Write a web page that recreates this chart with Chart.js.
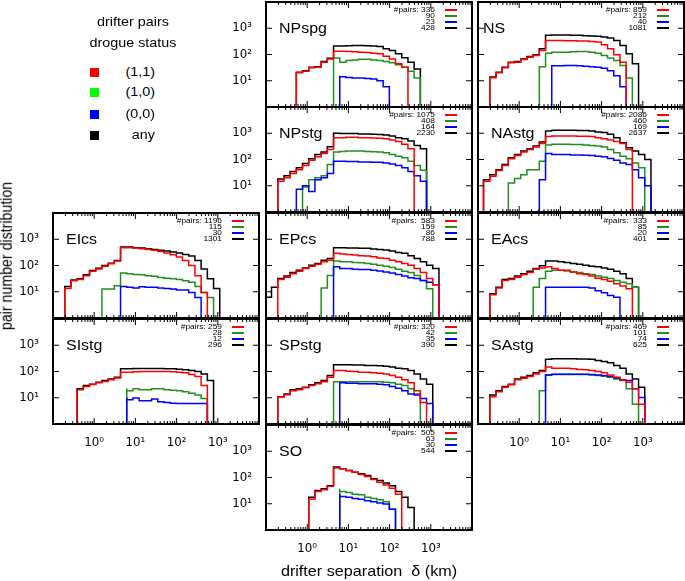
<!DOCTYPE html>
<html><head><meta charset="utf-8">
<script src="https://cdn.jsdelivr.net/npm/chart.js@4/dist/chart.umd.min.js"></script>
<style>
body{margin:0;background:#fff;width:685px;height:581px;overflow:hidden;position:relative;font-family:"Liberation Sans",Arial,sans-serif;}
canvas{position:absolute;}
.t{position:absolute;white-space:pre;color:#000;line-height:1;}
.sq{position:absolute;width:9px;height:9px;}
.ln{position:absolute;height:1.6px;width:12px;}
</style></head><body>
<script>
// ---------- DATA ----------
// bin edges of drifter separation (km), logarithmic bins (factor ~sqrt 2)
const edges_km = [0.0964,0.136,0.193,0.273,0.385,0.545,0.771,1.09,1.54,2.18,3.08,4.36,6.17,8.72,12.3,17.4,24.7,34.9,49.3,69.7,98.6,139,197,279,394,558,789,1115,1578,2231];
const _ = null;
// pair number distribution per bin: (1,1), (1,0), (0,0), any
const NPspg_11 = [_,_,_,_,_, 7.5,20,23,31,33,51,68, 134,134,130,127,123,119,112,106,86,68,44,33];
const NPspg_10 = [_,_,_,_,_,_,_,_,_,_,_, 10.6, 74,51,59,62,66,66,62,59,54,48,41,33,23,12.6];
const NPspg_00 = [_,_,_,_,_,_,_,_,_,_,_,_, 15.5,14.3,13.4,12.6,12.6,12.3,11.6,10,5.9];
const NPspg_any = [_,_,_,_,_, 7.9,21,24,33,34,54,72, 210,210,215,220,220,215,210,203,165,143,106,75,51,28];

const NS_11 = [_,_, 9.4,13,20,31,48,51,64,79,91,142, 345,345,345,335,335,325,325,316,300,235,165,97,51];
const NS_10 = [_,_,_,_,_,_,_,_,_,_, 15.5,34, 112,123,123,123,127,130,130,123,112,92,74,59,38,12.6];
const NS_00 = [_,_,_,_,_,_,_,_,_,_,_,_, 34,37,37,38,38,37,36,34,33,30,24,15.5,5.9];
const NS_any = [_,_, 10,14,21,33,51,54,68,84,97,165, 536,550,550,550,536,536,520,505,492,465,425,345,222,106,44];

const NPstg_11 = [_,_, 12,14.7,20,29,41,59,94,127,170,240, 680,680,700,700,680,680,660,640,620,555,480,380,257];
const NPstg_10 = [_,_,_,_,_,_, 3.9,8.9,17,20,24,64, 192,203,210,210,210,203,196,192,180,155,134,116,86,59,39];
const NPstg_00 = [_,_,_,_,_, 7.4,7.4,10,6.1,17,20,29, 86,86,83,83,81,81,79,79,74,68,59,48,35,24,15];
const NPstg_any = [_,_, 16,18,24,35,48,70,106,155,192,307, 1000,970,970,970,940,940,915,890,865,790,680,620,505,345,257];

const NAstg_11 = [_, 8.9,14.7,23,38,59,106,143,192,240,300,410, 745,790,790,790,790,770,770,745,680,620,555,480,410,240];
const NAstg_10 = [_,_,_,_,_, 7.4,12.6,19,26,41,41,86, 355,380,380,380,370,370,355,345,325,300,240,180,134,106,74,48];
const NAstg_00 = [_,_,_,_,_,_,_,_,_,_, 7,17, 170,155,155,155,150,150,146,143,134,127,109,94,74,64,41,20,10];
const NAstg_any = [_, 10,17,26,41,64,116,155,210,257,325,464, 1230,1310,1310,1310,1310,1270,1270,1230,1110,1070,915,680,437,280,210,155,100];

const EIcs_11 = [_,_, 8,13.4,26,29,41,60,74,94,116,147, 475,475,464,437,410,380,345,300,257,210,155,100,41,9.4];
const EIcs_10 = [_,_,_,_,_,_,_,_, 7,12.6,12.6,17, 52,48,45,44,41,39,35,33,31,29,26,23,16,9.4,6.1];
const EIcs_00 = [_,_,_,_,_,_,_,_,_,_,_, 9.4, 16,14.7,13.8,15.5,14.7,14.7,13.8,13.4,12.6,11.6,11.6,9.4,6.1];
const EIcs_any = [_,_, 8.1,16,28,31,44,64,79,100,123,155, 510,510,475,464,437,410,380,355,325,300,265,230,155,74,31,13.4];

const EPcs_11 = [_,_, 15,29,36,49,60,77,94,112,140,160, 290,273,265,250,235,230,215,195,185,160,140,120,103,77,54,32,18.6];
const EPcs_10 = [_,_,_,_,_,_,_,_,_, 15,14,42, 147,140,140,130,127,120,112,103,94,84,72,60,54,42,27,13];
const EPcs_00 = [_,_,_,_,_,_,_,_,_,_,_, 7.2, 89,77,77,72,70,70,66,62,57,52,45,40,34.5,32,27,23,18.6];
const EPcs_any = [6.2,6.2,15,32,40,54,66,81,103,120,160,185, 475,475,464,464,450,450,425,410,390,355,316,290,235,185,140,103,77];

const EAcs_11 = [_,_, 5,7.7,14,27,29,36,45,54,72,81, 89,77,66,66,57,49,45,40,33,29,25,20,16.5,13];
const EAcs_10 = [_,_,_,_,_,_,_,_,_, 6.2,15,32, 60,66,66,62,57,54,49,45,40,36,32,27,23,20,15];
const EAcs_00 = [_,_,_,_,_,_,_,_,_,_,_, 5.4, 15,15,15,15,15,15,15,14,11,9.2,7.2,6.2];
const EAcs_any = [_,_, 5.4,8.4,15,29,32,40,49,60,77,97, 147,147,140,130,120,112,103,94,89,81,72,60,49,32,15];

const SIstg_11 = [_,_,_,_, 9.4,20,27,32,37,42,49,57, 94,94,97,100,100,100,100,100,97,94,89,77,64,29];
const SIstg_10 = [_,_,_,_,_,_,_,_,_,_,_,_, 23,18.6,22,20,20,22,22,20,19.5,18.6,17,15,12.6,9.4];
const SIstg_00 = [_,_,_,_,_,_,_,_,_,_,_,_, 10.3,8.4,9.7,7.7,7.7,8.9,7,6.6,6.2,6.1,6.1,6.1,6.1,6.1];
const SIstg_any = [_,_,_,_, 10.3,22,29,33,39,45,52,60, 127,127,130,130,130,130,130,127,127,123,116,109,100,81,45];

const SPstg_11 = [_,_, 8.4,10.6,13,18.6,20,24,29,34,41,60, 109,109,103,100,94,94,89,86,81,70,60,49,37,18.6,6.6];
const SPstg_10 = [_,_,_,_,_,_,_,_,_,_,_, 8.4, 41,41,41,41,41,41,41,41,39,37,33,29,22,14];
const SPstg_00 = [_,_,_,_,_,_,_,_,_,_,_,_, 37,37,36,36,34.5,34.5,34.5,33,31,27,23,18.6,14,12.6,9.4,6.1];
const SPstg_any = [_,_, 8.9,11,14,20,22,25,31,37,45,70, 180,180,180,175,175,170,170,165,160,147,134,127,109,81,52,33];

const SAstg_11 = [_,_, 6.1,11,17,25,31,48,55,64,81,100, 147,134,134,134,127,120,116,109,100,89,74,60,49,39,22,5.7];
const SAstg_10 = [_,_,_,_,_,_,_,_,_,_, 6.6,18.6, 74,77,77,77,77,77,77,74,70,66,60,52,45,22,5.7];
const SAstg_00 = [_,_,_,_,_,_,_,_,_,_,_, 8.9, 74,79,79,79,79,79,79,77,74,70,64,57,49,45,22,10.3];
const SAstg_any = [_,_, 7,12.6,18.6,27,33,52,60,70,89,109, 290,307,307,307,307,300,300,290,265,240,215,170,134,81,52,25];

const SO_11 = [_,_,_,_,_,_,_, 12,15,29,34.5,46, 230,215,185,160,130,109,84,66,52,39,23];
const SO_10 = [_,_,_,_,_,_,_,_,_,_,_,_, 37,29,27,23,22,17.5,16,14.3,12,6.2];
const SO_00 = [_,_,_,_,_,_,_,_,_,_,_,_, 23,19,17.5,16,15,13,12,10.6,9.7,6.2];
const SO_any = [_,_,_,_,_,_,_, 12,17.5,32,37,49, 250,215,185,160,140,120,89,77,62,49,29,17.5,7.2];

const panelNames = ['NPspg','NS','NPstg','NAstg','EIcs','EPcs','EAcs','SIstg','SPstg','SAstg','SO'];
const pairs_11  = [336, 859, 1075, 2086, 1196, 583, 333, 259, 320, 469, 505];
const pairs_10  = [90, 212, 408, 460, 115, 159, 85, 28, 42, 101, 63];
const pairs_00  = [23, 40, 164, 169, 30, 86, 20, 12, 35, 74, 30];
const pairs_any = [428, 1081, 2230, 2637, 1301, 788, 401, 296, 390, 625, 544];
const statusLabels = ['(1,1)','(1,0)','(0,0)','any'];
const X_TICKS = [1, 10, 100, 1000];
const Y_TICKS = [10, 100, 1000];

// ---------- LAYOUT / STYLE ----------
const series = {
  NPspg:[NPspg_11,NPspg_10,NPspg_00,NPspg_any], NS:[NS_11,NS_10,NS_00,NS_any],
  NPstg:[NPstg_11,NPstg_10,NPstg_00,NPstg_any], NAstg:[NAstg_11,NAstg_10,NAstg_00,NAstg_any],
  EIcs:[EIcs_11,EIcs_10,EIcs_00,EIcs_any], EPcs:[EPcs_11,EPcs_10,EPcs_00,EPcs_any],
  EAcs:[EAcs_11,EAcs_10,EAcs_00,EAcs_any], SIstg:[SIstg_11,SIstg_10,SIstg_00,SIstg_any],
  SPstg:[SPstg_11,SPstg_10,SPstg_00,SPstg_any], SAstg:[SAstg_11,SAstg_10,SAstg_00,SAstg_any],
  SO:[SO_11,SO_10,SO_00,SO_any]
};
const grid = {NPspg:[1,0],NS:[2,0],NPstg:[1,1],NAstg:[2,1],EIcs:[0,2],EPcs:[1,2],EAcs:[2,2],SIstg:[0,3],SPstg:[1,3],SAstg:[2,3],SO:[1,4]};
const showY = {NPspg:1,NPstg:1,EIcs:1,SIstg:1,SO:1};
const showX = {SIstg:1,SO:1,SAstg:1};
const nameOff = {NS:5};
const pairsPrefix = {EPcs:'#pairs:  ',EAcs:'#pairs:  ',SO:'#pairs:  '};
const COL_X = [53, 266, 478], ROW_Y = [2, 107, 213, 319, 425], PW = 206, PH = 105;
const LINE_COLORS = ['#ff0000', '#1f8f1f', '#0000ff', '#000000'];
const KEY_COLORS = ['#ff0000', '#00ff00', '#0000ff', '#000000'];
const TICK_FONT = '"DejaVu Sans", sans-serif';
const SX = 'scaleX(1.14)';
const SUP = ['\u2070','\u00b9','\u00b2','\u00b3'];
const fmt = v => '10' + SUP[Math.round(Math.log10(v))];

function addText(txt, css){
  const d = document.createElement('div'); d.className='t'; d.textContent = txt;
  Object.assign(d.style, css); document.body.appendChild(d); return d;
}
function histPoints(vals){
  let i0 = vals.findIndex(v => v !== null), i1 = vals.length - 1;
  while (vals[i1] === null) i1--;
  const pts = [{x: edges_km[i0], y: 1}];
  for (let i = i0; i <= i1; i++) pts.push({x: edges_km[i], y: vals[i]});
  pts.push({x: edges_km[i1 + 1], y: 1});
  return pts;
}
const framePlugin = {
  id: 'frame',
  afterDatasetsDraw(chart){
    const {ctx, chartArea: a, scales: {x, y}} = chart;
    ctx.save(); ctx.strokeStyle = '#000'; ctx.lineWidth = 1; ctx.beginPath();
    for (let e = -1; e < 4; e++) for (let k = 1; k < 10; k++){
      const v = k * Math.pow(10, e); const px = x.getPixelForValue(v); const len = k === 1 ? 6 : 3;
      ctx.moveTo(px, a.bottom); ctx.lineTo(px, a.bottom - len);
      ctx.moveTo(px, a.top); ctx.lineTo(px, a.top + len);
    }
    for (const v of Y_TICKS){
      const py = y.getPixelForValue(v);
      ctx.moveTo(a.left, py); ctx.lineTo(a.left + 6, py);
      ctx.moveTo(a.right, py); ctx.lineTo(a.right - 6, py);
    }
    ctx.stroke();
    ctx.lineWidth = 2; ctx.strokeRect(a.left, a.top, a.right - a.left, a.bottom - a.top);
    ctx.restore();
  }
};

const PADL = 48, PADR = 3, PADT = 3, PADB = 32;
panelNames.forEach((name, pi) => {
  const [c, r] = grid[name];
  const L = COL_X[c], T = ROW_Y[r];
  const cv = document.createElement('canvas');
  cv.width = PW + PADL + PADR; cv.height = PH + PADT + PADB;
  cv.style.left = (L - PADL) + 'px'; cv.style.top = (T - PADT) + 'px';
  document.body.appendChild(cv);
  const s = series[name];
  const order = [0, 2, 1, 3]; // red on top, black at bottom
  const datasets = order.map(k => ({
    data: histPoints(s[k]), borderColor: LINE_COLORS[k], borderWidth: 1.5,
    pointRadius: 0, stepped: 'after', fill: false
  }));
  new Chart(cv, {
    type: 'line',
    data: {datasets},
    options: {
      responsive: false, animation: false, devicePixelRatio: 1,
      layout: {padding: {top: PADT, right: PADR, left: 0, bottom: 0}},
      plugins: {legend: {display: false}, tooltip: {enabled: false}},
      scales: {
        x: {type: 'logarithmic', min: 0.1, max: 10000, position: 'bottom',
            grid: {display: false}, border: {display: false},
            afterFit: sc => { sc.height = PADB; sc.paddingLeft = 0; sc.paddingRight = 0; },
            afterBuildTicks: sc => { sc.ticks = X_TICKS.map(v => ({value: v})); },
            ticks: {display: !!showX[name], autoSkip: false, maxRotation: 0, padding: 4, color: '#000',
                    font: {family: TICK_FONT, size: 11.8}, callback: v => fmt(v)}},
        y: {type: 'logarithmic', min: 1, max: 10000, position: 'left',
            grid: {display: false}, border: {display: false},
            afterFit: sc => { sc.width = PADL; sc.paddingTop = 0; sc.paddingBottom = 0; },
            afterBuildTicks: sc => { sc.ticks = Y_TICKS.map(v => ({value: v})); },
            ticks: {display: !!showY[name], autoSkip: false, padding: 6, color: '#000',
                    font: {family: TICK_FONT, size: 11.8}, callback: v => fmt(v)}}
      }
    },
    plugins: [framePlugin]
  });
  // panel name
  addText(name, {left: (L + (nameOff[name] ?? 13)) + 'px', top: (T + 18.7) + 'px', fontSize: '14px', transform: SX, transformOrigin: 'left center'});
  // pair counts legend
  const counts = [pairs_11[pi], pairs_10[pi], pairs_00[pi], pairs_any[pi]];
  const rowsC = [8, 14, 19.9, 25.8];
  counts.forEach((n, k) => {
    const txt = (k === 0 ? (pairsPrefix[name] || '#pairs: ') : '') + n;
    addText(txt, {left: (L + 100) + 'px', width: '69px', textAlign: 'right', top: (T + rowsC[k] - 3.6) + 'px', fontSize: '7.3px', transform: SX, transformOrigin: 'right center'});
    const ln = document.createElement('div'); ln.className = 'ln';
    Object.assign(ln.style, {left: (L + 179) + 'px', top: (T + rowsC[k] - 0.8) + 'px', background: LINE_COLORS[k]});
    document.body.appendChild(ln);
  });
});

// global key
addText('drifter pairs', {left: '33px', width: '200px', textAlign: 'center', top: '16.3px', fontSize: '12.6px', transform: SX});
addText('drogue status', {left: '33px', width: '200px', textAlign: 'center', top: '36.8px', fontSize: '12.6px', transform: SX});
const keyY = [72, 92.5, 114, 135.5];
statusLabels.forEach((lab, k) => {
  const sq = document.createElement('div'); sq.className = 'sq';
  Object.assign(sq.style, {left: '90px', top: (keyY[k] - 4.5) + 'px', background: KEY_COLORS[k]});
  document.body.appendChild(sq);
  addText(lab, {left: '100px', width: '55px', textAlign: 'right', top: (keyY[k] - 6.15) + 'px', fontSize: '12.6px', transform: SX, transformOrigin: 'right center'});
});
// axis titles
addText('pair number distribution', {left: '5.9px', top: '256px', fontSize: '14.2px', transform: 'translate(-50%,-50%) rotate(-90deg) scaleY(1.14)'});
addText('drifter separation  \u03b4 (km)', {left: '269px', width: '200px', textAlign: 'center', top: '563.5px', fontSize: '14.2px', transform: SX});
</script>
</body></html>
